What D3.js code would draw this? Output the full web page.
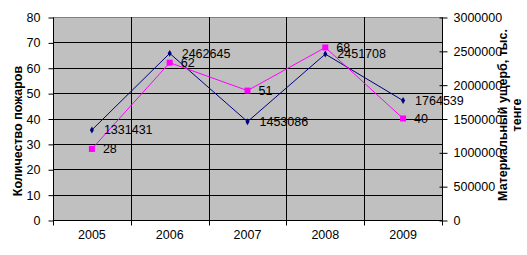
<!DOCTYPE html>
<html>
<head>
<meta charset="utf-8">
<script src="https://cdn.jsdelivr.net/npm/d3@7"></script>
<style>
  body { margin: 0; background: #fff; }
  text { font-family: Arial, "Liberation Sans", sans-serif; }
</style>
</head>
<body>
<svg id="chart" width="527" height="255"></svg>
<script>
var years = ['2005', '2006', '2007', '2008', '2009']
var fires = [28, 62, 51, 68, 40]
var damage = [1331431, 2462645, 1453086, 2451708, 1764539]
var leftTicks = [0, 10, 20, 30, 40, 50, 60, 70, 80]
var rightTicks = [0, 500000, 1000000, 1500000, 2000000, 2500000, 3000000]

var svg = d3.select('#chart')
// note: "top" is taken by window.top, so use other names
var plotLeft = 53, plotRight = 442, plotTop = 17, plotBottom = 220
var fontSize = '12.5px'

var x = d3.scaleBand().domain(years).range([plotLeft, plotRight])
var yL = d3.scaleLinear().domain([0, 80]).range([plotBottom, plotTop])
var yR = d3.scaleLinear().domain([0, 3000000]).range([plotBottom, plotTop])

// plot area
svg.append('rect')
  .attr('x', plotLeft + 0.5).attr('y', plotTop + 0.5)
  .attr('width', plotRight - plotLeft).attr('height', plotBottom - plotTop)
  .style('fill', '#c0c0c0')
  .style('stroke', '#808080')

// horizontal grid (left axis)
leftTicks.forEach(function (t) {
  if (t === 0 || t === 80) return
  svg.append('line')
    .attr('x1', plotLeft).attr('x2', plotRight)
    .attr('y1', Math.round(yL(t)) + 0.5).attr('y2', Math.round(yL(t)) + 0.5)
    .style('stroke', '#000')
})
// vertical grid between categories
years.forEach(function (yr, i) {
  if (i === 0) return
  var gx = Math.round(x(yr)) + 0.5
  svg.append('line')
    .attr('x1', gx).attr('x2', gx)
    .attr('y1', plotTop).attr('y2', plotBottom)
    .style('stroke', '#000')
})

// left axis
var gL = svg.append('g').attr('transform', 'translate(' + (plotLeft + 0.5) + ',0.5)')
  .call(d3.axisLeft(yL).tickValues(leftTicks).tickSize(5).tickPadding(8))
gL.select('.domain').attr('d', 'M0,' + plotTop + 'V' + plotBottom).style('stroke', '#000')
gL.selectAll('text').style('font-size', fontSize).style('fill', '#000').attr('font-family', null)

// right axis
var gR = svg.append('g').attr('transform', 'translate(' + (plotRight + 0.5) + ',0.5)')
  .call(d3.axisRight(yR).tickValues(rightTicks).tickSize(5).tickPadding(6).tickFormat(d3.format('d')))
gR.select('.domain').attr('d', 'M0,' + plotTop + 'V' + plotBottom).style('stroke', '#000')
gR.selectAll('.tick line').attr('x1', -3)
gR.selectAll('text').style('font-size', fontSize).style('fill', '#000').attr('font-family', null)

// bottom axis
var gB = svg.append('g').attr('transform', 'translate(0,' + (plotBottom + 0.5) + ')')
  .call(d3.axisBottom(x).tickSize(0).tickPadding(10))
gB.select('.domain').attr('d', 'M' + plotLeft + ',0H' + plotRight).style('stroke', '#000')
gB.selectAll('text').style('font-size', fontSize).style('fill', '#000').attr('font-family', null)
years.concat(['end']).forEach(function (yr, i) {
  var bx = Math.round(i < years.length ? x(yr) : plotRight) + 0.5
  gB.append('line').attr('x1', bx).attr('x2', bx).attr('y1', 0).attr('y2', 5).style('stroke', '#000')
})

var cx = function (i) { return x(years[i]) + x.bandwidth() / 2 }

// damage series (navy)
svg.append('path')
  .datum(damage)
  .attr('d', d3.line().x(function (d, i) { return cx(i) }).y(function (d) { return yR(d) }))
  .style('fill', 'none').style('stroke', '#000080').style('stroke-width', 1)
svg.selectAll('.dmark').data(damage).enter().append('path')
  .attr('d', d3.symbol().type(d3.symbolDiamond).size(14))
  .attr('transform', function (d, i) { return 'translate(' + cx(i) + ',' + yR(d) + ')' })
  .style('fill', '#000080')

// fires series (magenta)
svg.append('path')
  .datum(fires)
  .attr('d', d3.line().x(function (d, i) { return cx(i) }).y(function (d) { return yL(d) }))
  .style('fill', 'none').style('stroke', '#ff00ff').style('stroke-width', 1)
svg.selectAll('.fmark').data(fires).enter().append('rect')
  .attr('x', function (d, i) { return cx(i) - 3 })
  .attr('y', function (d) { return yL(d) - 3 })
  .attr('width', 6).attr('height', 6)
  .style('fill', '#ff00ff')

// data labels
svg.selectAll('.dlab').data(damage).enter().append('text')
  .attr('x', function (d, i) { return cx(i) + 12 })
  .attr('y', function (d) { return yR(d) })
  .attr('dy', '0.35em')
  .style('font-size', fontSize)
  .text(function (d) { return d })
svg.selectAll('.flab').data(fires).enter().append('text')
  .attr('x', function (d, i) { return cx(i) + 11 })
  .attr('y', function (d) { return yL(d) })
  .attr('dy', '0.35em')
  .style('font-size', fontSize)
  .text(function (d) { return d })

// axis titles
svg.append('text')
  .attr('transform', 'translate(22,131) rotate(-90)')
  .attr('text-anchor', 'middle')
  .style('font-size', fontSize).style('font-weight', 'bold')
  .text('Количество пожаров')
var rt = svg.append('text')
  .attr('transform', 'translate(507,115) rotate(-90)')
  .attr('text-anchor', 'middle')
  .style('font-size', fontSize).style('font-weight', 'bold')
rt.append('tspan').attr('x', 0).attr('dy', 0).text('Материальный ущерб, тыс.')
rt.append('tspan').attr('x', 0).attr('dy', '1.15em').text('тенге')
</script>
</body>
</html>
